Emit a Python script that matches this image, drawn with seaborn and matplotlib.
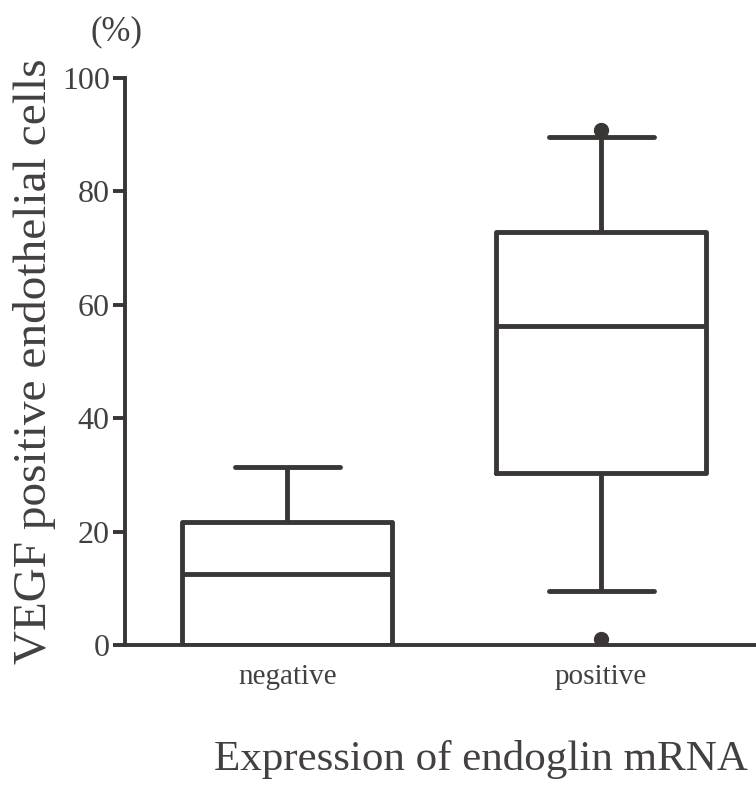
import matplotlib
matplotlib.use("Agg")
import matplotlib.pyplot as plt
import pandas as pd
import seaborn as sns

# values (% VEGF positive endothelial cells)
negative_vals = [0.0, 0.0, 0.0, 0.0, 5.0, 12.5, 18.0, 21.7, 21.7, 31.4, 31.4]
positive_vals = [1.0, 9.5, 30.3, 30.3, 45.0, 56.3, 65.0, 72.8, 72.8, 89.6, 90.8]
groups = ["negative", "positive"]
y_ticks = [0, 20, 40, 60, 80, 100]

df = pd.DataFrame({
    "group": ["negative"] * len(negative_vals) + ["positive"] * len(positive_vals),
    "value": negative_vals + positive_vals,
})

sns.set_theme(style="ticks")
plt.rcParams["font.family"] = ["Liberation Serif", "DejaVu Serif"]

ink = "#3a3636"
txt = "#444040"
lw = 3.5

fig = plt.figure(figsize=(7.56, 7.88), dpi=100)
ax = fig.add_axes([0.1653, 0.1815, 0.8347, 0.7195])

line = dict(color=ink, linewidth=lw)
sns.boxplot(
    data=df, x="group", y="value", order=groups, ax=ax,
    width=0.67, whis=(10, 90), fill=False, linecolor=ink, linewidth=lw,
    boxprops=line, medianprops=line, whiskerprops=line, capprops=line,
    flierprops=dict(marker="o", markersize=10, markerfacecolor=ink,
                    markeredgecolor=ink, linestyle="none"),
)

ax.set_xlim(-0.518, 1.494)
ax.set_ylim(0, 100)
ax.set_yticks(y_ticks)
ax.tick_params(axis="y", length=9, width=lw * 0.8, color=ink, labelsize=23,
               labelcolor=txt, pad=2)
ax.tick_params(axis="x", length=0, labelsize=21, labelcolor=txt, pad=14)
for s in ["top", "right"]:
    ax.spines[s].set_visible(False)
for s in ["left", "bottom"]:
    ax.spines[s].set_color(ink)
    ax.spines[s].set_linewidth(lw * 0.8)

ax.set_ylabel("VEGF positive endothelial cells", fontsize=34, color=txt, labelpad=4)
ax.set_xlabel("Expression of endoglin mRNA", fontsize=31, color=txt, labelpad=36)
ax.xaxis.label.set_x(0.564)
fig.text(116 / 756, 1 - 32 / 788, "(%)", fontsize=25, color=txt,
         ha="center", va="center")

fig.savefig("out.png", dpi=100)
